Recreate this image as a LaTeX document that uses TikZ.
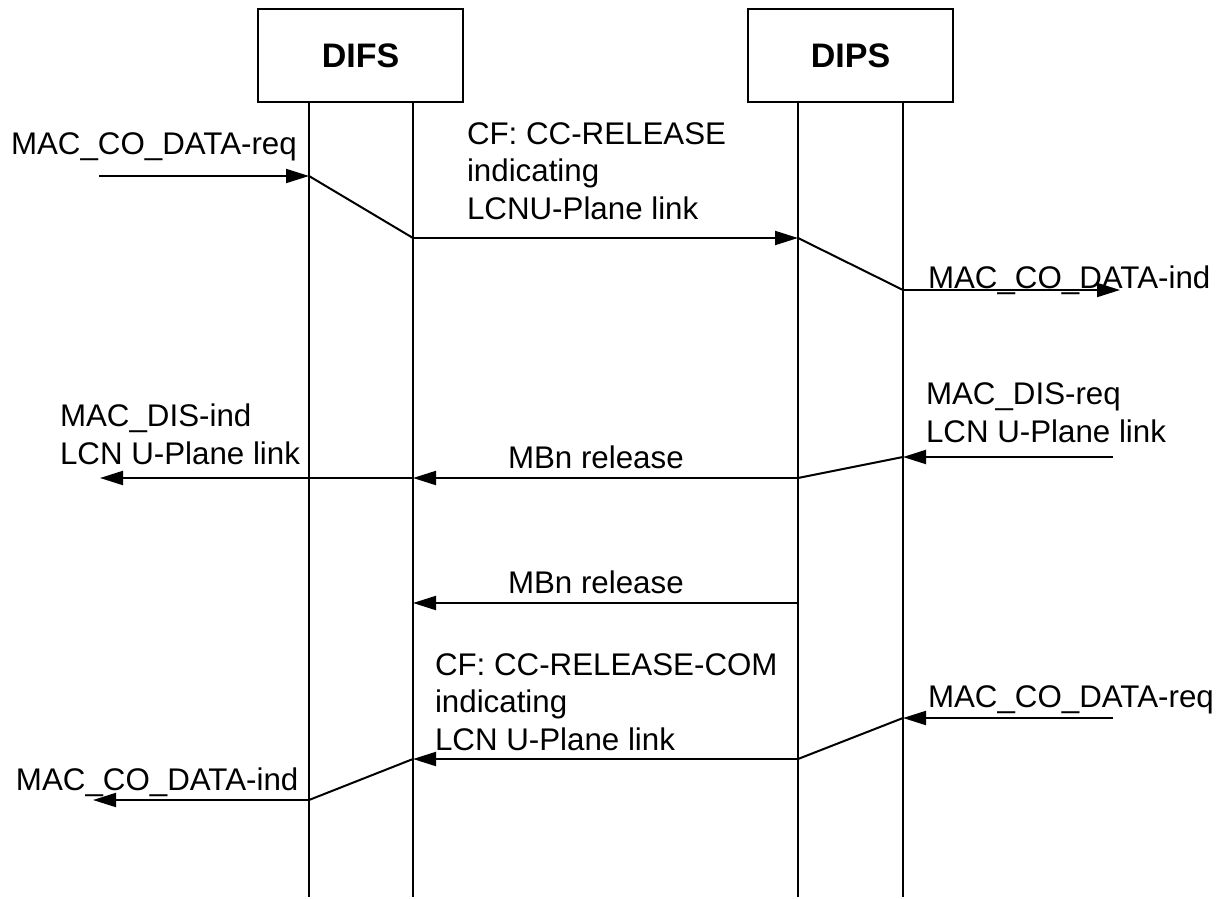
\documentclass[tikz,border=0pt]{standalone}
\usepackage{fontspec}
\setmainfont{Liberation Sans}
\usetikzlibrary{arrows.meta}

\begin{document}
\begin{tikzpicture}[x=1pt,y=-1pt,line width=2pt,
	>={Triangle[length=23pt,width=14pt]},
	every node/.style={font=\fontsize{31.3}{37.5}\selectfont, inner sep=0pt},
	entity/.style={draw, minimum width=205pt, minimum height=92pt, font=\fontsize{34}{40}\selectfont\bfseries},
	msg/.style={align=left, anchor=base west}]
	\useasboundingbox (0,0) rectangle (1223,899);

	\draw[] (360.5,55.5) node[entity] (difs) {DIFS};
	\draw[] (850.5,55.5) node[entity] (dips) {DIPS};

	% lifelines
	\foreach \nm/\x in {fa/309, fb/413, pa/798, pb/903}
		\draw (\x,101.5) coordinate (\nm top) -- (\x,897) coordinate (\nm bot);

	% connect request
	\coordinate (inreq) at (99,176);
	\coordinate (fa1) at (309,176);
	\coordinate (fb1) at (413,238);
	\coordinate (pa1) at (798,238);
	\coordinate (pb1) at (903,290);
	\coordinate (outind) at (1120,290);
	\draw[->] (inreq) -- (fa1);
	\draw (fa1) -- (fb1);
	\draw[->] (fb1) -- (pa1);
	\draw (pa1) -- (pb1);
	\draw[->] (pb1) -- (outind);

	% release from DIPS
	\coordinate (disreq) at (1113,457);
	\coordinate (pb2) at (903,457);
	\coordinate (pa2) at (798,478);
	\coordinate (fb2) at (413,478);
	\coordinate (disind) at (100,478);
	\draw[->] (disreq) -- (pb2);
	\draw (pb2) -- (pa2);
	\draw[->] (pa2) -- (fb2);
	\draw[->] (fb2) -- (disind);

	\coordinate (pa3) at (798,603);
	\coordinate (fb3) at (413,603);
	\draw[->] (pa3) -- (fb3);

	% release complete
	\coordinate (inreq2) at (1113,718);
	\coordinate (pb4) at (903,718);
	\coordinate (pa4) at (798,759);
	\coordinate (fb4) at (413,759);
	\coordinate (fa4) at (309,800);
	\coordinate (outind2) at (93,800);
	\draw[->] (inreq2) -- (pb4);
	\draw (pb4) -- (pa4);
	\draw[->] (pa4) -- (fb4);
	\draw (fb4) -- (fa4);
	\draw[->] (fa4) -- (outind2);

	% labels (base = last line)
	\node[msg] (lreq1) at (10,154) {MAC\_CO\_DATA-req};
	\node[msg] (lrel) at (466,219) {CF: CC-RELEASE\\indicating\\LCNU-Plane link};
	\node[msg] (lind1) at (927,288) {MAC\_CO\_DATA-ind};
	\node[msg] (ldisreq) at (925,442) {MAC\_DIS-req\\LCN U-Plane link};
	\node[msg] (ldisind) at (59,464) {MAC\_DIS-ind\\LCN U-Plane link};
	\node[msg] (lmbn1) at (507,468) {MBn release};
	\node[msg] (lmbn2) at (507,593) {MBn release};
	\node[msg] (lrelcom) at (434,750) {CF: CC-RELEASE-COM\\indicating\\LCN U-Plane link};
	\node[msg] (lreq2) at (927,707) {MAC\_CO\_DATA-req};
	\node[msg] (lind2) at (15,790) {MAC\_CO\_DATA-ind};
\end{tikzpicture}
\end{document}
